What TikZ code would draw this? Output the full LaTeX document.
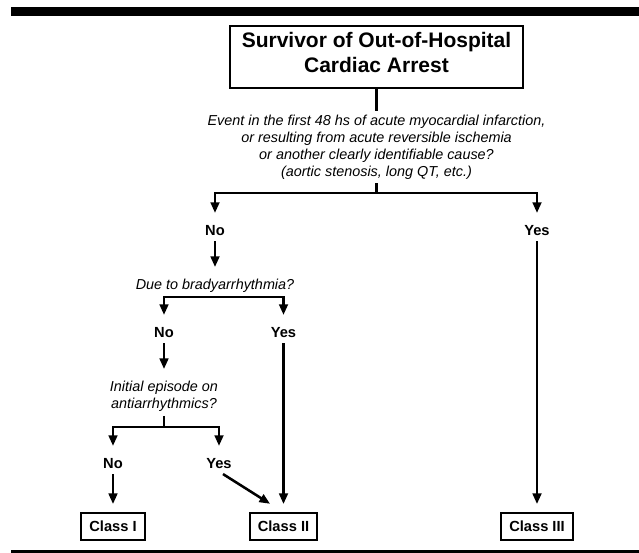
\documentclass[tikz,border=0pt]{standalone}
\usepackage{fontspec}
\setmainfont{Liberation Sans}
\usetikzlibrary{arrows.meta}

\tikzset{
  titlebox/.style={draw, line width=1.2pt, align=center, inner sep=0pt,
    minimum width=219.75pt, minimum height=46.5pt,
    font=\bfseries\fontsize{15.75}{18.75}\selectfont},
  question/.style={align=center, inner xsep=2pt, inner ysep=3pt,
    font=\itshape\fontsize{10.8}{12.75}\selectfont},
  answer/.style={inner xsep=2pt, inner ysep=3.5pt,
    font=\bfseries\fontsize{11}{13}\selectfont},
  classbox/.style={draw, line width=1.4pt, inner xsep=6pt, minimum height=20.25pt,
    font=\bfseries\fontsize{11}{13}\selectfont},
  link/.style={line width=1.9pt},
  arr/.style={link, -{Triangle[length=8pt,width=6.5pt]}, shorten >=6pt},
}

\begin{document}
\begin{tikzpicture}[x=0.75pt,y=-0.75pt]
    \useasboundingbox (0,0) rectangle (639,553);
    % rules at top and bottom
    \fill (11,7) rectangle (639,16);
    \fill (11,550) rectangle (639,553);

    \node[titlebox] (surv) at (376.5,57)
        {Survivor of Out-of-Hospital\\Cardiac Arrest\rule[-7.5pt]{0pt}{7.5pt}};
    \node[question] (cause) at (376.5,147)
        {Event in the first 48 hs of acute myocardial infarction,\\
         or resulting from acute reversible ischemia\\
         or another clearly identifiable cause?\\
         (aortic stenosis, long QT, etc.)};
    \coordinate (split1) at (376.5,193);
    \node[answer] (no1)  at (215,231) {No};
    \node[answer] (yes1) at (537,231) {Yes};

    \node[question] (brady) at (215,286) {Due to bradyarrhythmia?};
    \node[answer] (no2)  at (164,333) {No};
    \node[answer] (yes2) at (283.5,333) {Yes};

    \node[question] (drugs) at (164,396.5) {Initial episode on\\antiarrhythmics?};
    \coordinate (split3) at (164,427);
    \node[answer] (no3)  at (113,464) {No};
    \node[answer] (yes3) at (219,464) {Yes};

    \node[classbox] (cls1) at (113,526.5)   {Class I};
    \node[classbox] (cls2) at (283.5,526.5) {Class II};
    \node[classbox] (cls3) at (537,526.5)   {Class III};

    % connectors
    \draw[link] (surv) -- (cause);
    \draw[link] (cause) -- (split1);
    \draw[arr] (split1) -| (no1);
    \draw[arr] (split1) -| (yes1);
    \draw[arr] (no1) edge (brady);
    \draw[arr] (brady.south) -| (no2);
    \draw[arr] (brady.south) -| (yes2);
    \draw[arr] (no2) edge (drugs);
    \draw[link] (drugs) -- (split3);
    \draw[arr] (split3) -| (no3);
    \draw[arr] (split3) -| (yes3);
    \draw[arr] (no3) edge (cls1);
    \draw[arr] ([xshift=3pt]yes3.south) -- ([xshift=-5pt,yshift=3pt]cls2.north);
    \draw[arr] (yes2) edge (cls2);
    \draw[arr] (yes1) edge (cls3);
\end{tikzpicture}
\end{document}
